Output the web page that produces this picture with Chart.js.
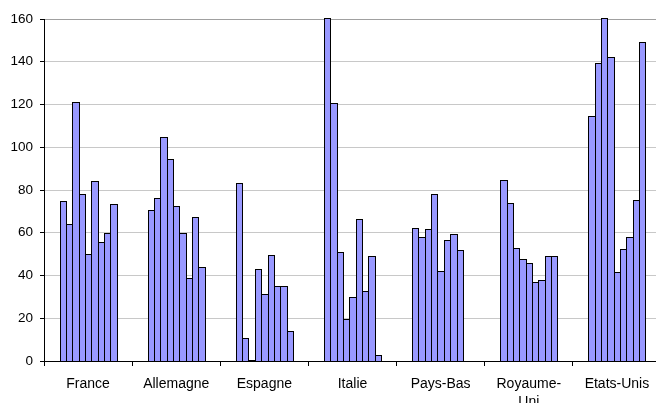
<!DOCTYPE html>
<html>
<head>
<meta charset="utf-8">
<script src="https://cdn.jsdelivr.net/npm/chart.js@4"></script>
<style>
  html, body { margin: 0; padding: 0; background: #fff; }
  #wrap { width: 656px; height: 403px; overflow: hidden; position: relative; }
  #box { width: 661px; height: 403px; position: absolute; left: 0; top: 0; }
</style>
</head>
<body>
<div id="wrap"><div id="box"><canvas id="c"></canvas></div></div>
<script>
// Countries along the category axis
const categories = ["France", "Allemagne", "Espagne", "Italie", "Pays-Bas", ["Royaume-", "Uni"], "Etats-Unis"];

// Nine series, one value per country (null = no value)
const serie1 = [74.8, 70.5, 83.5, 170, 62.0, 84.9, 114.4];
const serie2 = [64.3, 76.3, 10.9, 120.5, 58.1, 73.7, 139.2];
const serie3 = [121.3, 104.9, 0.6, 50.9, 61.8, 52.8, 170];
const serie4 = [78.2, 94.6, 43.2, 19.8, 78.0, 47.5, 142.4];
const serie5 = [50.1, 72.4, 31.5, 30.0, 42.3, 45.9, 41.7];
const serie6 = [84.0, 59.9, 49.8, 66.6, 56.4, 37.0, 52.4];
const serie7 = [55.7, 39.0, 35.0, 32.8, 59.5, 38.1, 57.9];
const serie8 = [59.9, 67.4, 35.3, 49.3, 51.7, 49.0, 75.2];
const serie9 = [73.4, 44.2, 14.0, 2.8, null, 49.2, 149.4];

const series = [serie1, serie2, serie3, serie4, serie5, serie6, serie7, serie8, serie9];

// Value axis range and step
const yMin = 0, yMax = 160, yStep = 20;

const FONT = "'Liberation Sans', Arial, sans-serif";
const FILL = "#9999ff";

// Paints each bar on whole pixels with a crisp 1px black outline
const crispBars = {
  id: "crispBars",
  afterDatasetsDraw(chart) {
    const { ctx, chartArea: a } = chart;
    ctx.save();
    ctx.beginPath();
    ctx.rect(a.left, a.top - 1, a.right - a.left, a.bottom - a.top + 1);
    ctx.clip();
    chart.data.datasets.forEach((ds, di) => {
      const meta = chart.getDatasetMeta(di);
      meta.data.forEach((bar, i) => {
        if (ds.data[i] == null) return;
        const p = bar.getProps(["x", "y", "base", "width"], true);
        const l = Math.round(p.x - p.width / 2);
        const r = Math.round(p.x + p.width / 2);
        const t = Math.round(Math.max(p.y, a.top - 1));
        const b = Math.round(p.base);
        ctx.fillStyle = FILL;
        ctx.fillRect(l, t, r - l, b - t);
        ctx.strokeStyle = "#000000";
        ctx.lineWidth = 1;
        ctx.strokeRect(l + 0.5, t + 0.5, r - l, b - t);
      });
    });
    ctx.restore();
  }
};

new Chart(document.getElementById("c"), {
  type: "bar",
  data: {
    labels: categories,
    datasets: series.map((vals, i) => ({
      label: "S" + (i + 1),
      data: vals,
      backgroundColor: "rgba(0,0,0,0)",
      borderWidth: 0,
      categoryPercentage: 0.648,
      barPercentage: 1.0
    }))
  },
  options: {
    responsive: true,
    maintainAspectRatio: false,
    animation: false,
    layout: { padding: { top: 19, left: 0, right: 0, bottom: 0 } },
    plugins: { legend: { display: false }, tooltip: { enabled: false }, title: { display: false } },
    scales: {
      x: {
        offset: true,
        grid: {
          offset: true,
          drawOnChartArea: false,
          drawTicks: true,
          tickLength: 5,
          tickColor: "#000000"
        },
        border: { color: "#000000", width: 1 },
        ticks: {
          color: "#000000",
          font: { family: FONT, size: 14, lineHeight: 1.3 },
          padding: 9,
          maxRotation: 0,
          autoSkip: false
        },
        afterFit: s => { s.height = 42; }
      },
      y: {
        min: yMin,
        max: yMax,
        grid: {
          color: ctx => (ctx.tick && ctx.tick.value === yMax) ? "#a0a0a0" : "#c8c8c8",
          tickColor: "#000000",
          tickLength: 4,
          lineWidth: 1
        },
        border: { color: "#000000", width: 1 },
        ticks: {
          stepSize: yStep,
          color: "#000000",
          font: { family: FONT, size: 13.5 },
          padding: 7
        },
        afterFit: s => { s.width = 44; }
      }
    }
  },
  plugins: [crispBars]
});
</script>
</body>
</html>
